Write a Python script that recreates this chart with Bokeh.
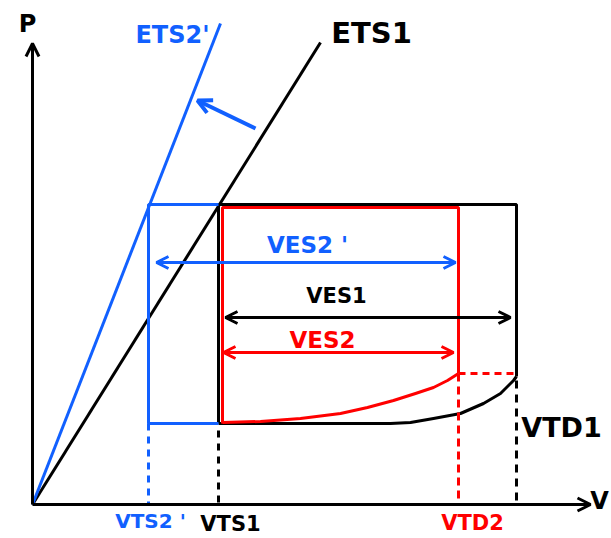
from bokeh.plotting import figure
from bokeh.models import Arrow, OpenHead, Range1d
from bokeh.embed import file_html
from bokeh.resources import INLINE
from bokeh.core.properties import value

BLUE = "#1160ff"
RED = "#ff0000"
BLACK = "#000000"
FONT = "DejaVu Sans"

# --- key values (V on x, P on y) ---
VTS2p = 1.16
VTS1 = 1.86
VTD2 = 4.26
VTD1 = 4.84
Pes = 3.00
Ped = 0.81
P_top_red = 2.97
V_left_red = 1.90
P_end_red = 1.31
P_end_black = 1.28

# end-systolic lines (endpoints)
ets1_v = [0.0, 2.88]
ets1_p = [0.0, 4.62]
ets2p_v = [0.0, 1.88]
ets2p_p = [0.0, 4.81]

# filling curves
red_fill_v = [1.90, 2.28, 2.68, 3.08, 3.35, 3.61, 3.83, 4.01, 4.15, 4.26]
red_fill_p = [0.82, 0.83, 0.86, 0.91, 0.97, 1.04, 1.11, 1.17, 1.24, 1.31]
black_fill_v = [1.86, 3.58, 3.78, 4.01, 4.28, 4.51, 4.68, 4.81, 4.84]
black_fill_p = [0.81, 0.81, 0.82, 0.86, 0.91, 1.01, 1.11, 1.24, 1.28]

# dimension arrows (P level, V start, V end)
ves2p_arrow = [2.42, 1.24, 4.23]
ves1_arrow = [1.87, 1.93, 4.78]
ves2_arrow = [1.52, 1.91, 4.21]

# shift arrow (V start, P start, V end, P end)
shift_arrow = [2.23, 3.76, 1.65, 4.04]

axis_v_max = 5.58
axis_p_max = 4.61

labels = ["P", "ETS2'", "ETS1", "VES2 '", "VES1", "VES2", "VTD1", "VTS2 '", "VTS1", "VTD2", "V"]
label_v = [-0.05, 1.40, 3.39, 2.75, 3.04, 2.90, 5.29, 1.18, 1.98, 4.40, 5.67]
label_p = [4.81, 4.70, 4.72, 2.60, 2.09, 1.65, 0.77, -0.16, -0.19, -0.18, 0.04]
label_color = [BLACK, BLUE, BLACK, BLUE, BLACK, RED, BLACK, BLUE, BLACK, RED, BLACK]
label_size = ["24px", "24px", "29px", "23px", "21px", "23px", "27px", "20px", "21px", "21px", "24px"]

p = figure(width=611, height=538, output_backend="svg", toolbar_location=None,
           x_range=Range1d(-0.32, 5.79), y_range=Range1d(-0.34, 5.04),
           min_border=0, min_border_left=0, min_border_right=0,
           min_border_top=0, min_border_bottom=0)
p.axis.visible = False
p.grid.visible = False
p.outline_line_color = None
p.background_fill_color = "white"

LW = 3

# axes with arrows
p.add_layout(Arrow(end=OpenHead(size=13, line_width=LW, line_color=BLACK),
                   x_start=0, y_start=0, x_end=0, y_end=axis_p_max,
                   line_width=LW, line_color=BLACK))
p.add_layout(Arrow(end=OpenHead(size=13, line_width=LW, line_color=BLACK),
                   x_start=0, y_start=0, x_end=axis_v_max, y_end=0,
                   line_width=LW, line_color=BLACK))

# ETS lines
p.line(ets1_v, ets1_p, line_color=BLACK, line_width=LW)
p.line(ets2p_v, ets2p_p, line_color=BLUE, line_width=LW)

# black loop (baseline)
p.line([VTS1, VTS1, VTD1, VTD1], [Ped, Pes, Pes, P_end_black], line_color=BLACK, line_width=LW)
p.line(black_fill_v, black_fill_p, line_color=BLACK, line_width=LW, line_join="round")

# blue loop
p.line([VTS1, VTS2p, VTS2p, VTS1], [Pes, Pes, Ped, Ped], line_color=BLUE, line_width=LW)

# red loop
p.line([V_left_red, V_left_red, VTD2, VTD2], [Ped, P_top_red, P_top_red, P_end_red],
       line_color=RED, line_width=LW)
p.line(red_fill_v, red_fill_p, line_color=RED, line_width=LW, line_join="round")

# dashed guides
p.line([VTS2p, VTS2p], [Ped, 0], line_color=BLUE, line_width=LW, line_dash="7 6")
p.line([VTS1, VTS1], [Ped - 0.07, 0], line_color=BLACK, line_width=LW, line_dash="7 6")
p.line([VTD2, VTD2], [P_end_red, 0], line_color=RED, line_width=LW, line_dash="8 5")
p.line([VTD1, VTD1], [P_end_black - 0.04, 0], line_color=BLACK, line_width=LW, line_dash="8 6")
p.line([VTD2, VTD1], [P_end_red, P_end_red], line_color=RED, line_width=LW, line_dash="7 5")

# dimension arrows
for (pv, v0, v1), c in [(ves2p_arrow, BLUE), (ves1_arrow, BLACK), (ves2_arrow, RED)]:
    p.add_layout(Arrow(start=OpenHead(size=12, line_width=LW, line_color=c),
                       end=OpenHead(size=12, line_width=LW, line_color=c),
                       x_start=v0, y_start=pv, x_end=v1, y_end=pv,
                       line_width=LW, line_color=c))

# shift arrow
p.add_layout(Arrow(end=OpenHead(size=14, line_width=LW + 1, line_color=BLUE),
                   x_start=shift_arrow[0], y_start=shift_arrow[1],
                   x_end=shift_arrow[2], y_end=shift_arrow[3],
                   line_width=LW + 1, line_color=BLUE))

# labels
for t, x, y, c, s in zip(labels, label_v, label_p, label_color, label_size):
    p.text(x=[x], y=[y], text=[t], text_color=c, text_font=value(FONT),
           text_font_size=s, text_font_style="bold",
           text_align="center", text_baseline="middle")

open("out.html", "w").write(file_html(p, INLINE))
